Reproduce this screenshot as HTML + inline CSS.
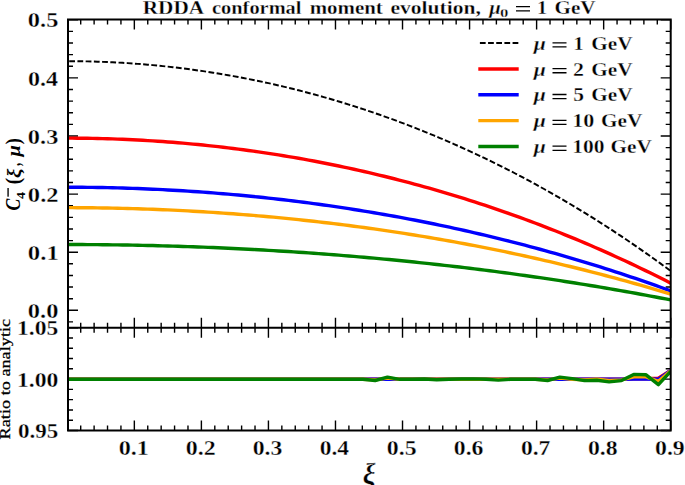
<!DOCTYPE html>
<html><head><meta charset="utf-8"><style>
html,body{margin:0;padding:0;background:#fff;width:685px;height:485px;overflow:hidden}
svg{display:block;font-family:"Liberation Serif",serif;font-kerning:none}
text{font-family:"Liberation Serif",serif}
.e text, text.e{stroke:#fff;stroke-width:0.3px;paint-order:fill stroke}
</style></head><body>
<svg width="685" height="485" viewBox="0 0 685 485">
<rect width="685" height="485" fill="#fff"/>
<defs><clipPath id="cm"><rect x="67.30" y="19.60" width="603.40" height="308.10"/></clipPath>
<clipPath id="cl"><rect x="67.30" y="327.70" width="603.40" height="102.80"/></clipPath></defs>
<path d="M80.71,19.60V24.60M80.71,327.70V322.70M80.71,327.70V332.70M80.71,430.50V425.50M94.12,19.60V24.60M94.12,327.70V322.70M94.12,327.70V332.70M94.12,430.50V425.50M107.53,19.60V24.60M107.53,327.70V322.70M107.53,327.70V332.70M107.53,430.50V425.50M120.94,19.60V24.60M120.94,327.70V322.70M120.94,327.70V332.70M120.94,430.50V425.50M134.34,19.60V29.60M134.34,327.70V317.70M134.34,327.70V337.70M134.34,430.50V420.50M147.75,19.60V24.60M147.75,327.70V322.70M147.75,327.70V332.70M147.75,430.50V425.50M161.16,19.60V24.60M161.16,327.70V322.70M161.16,327.70V332.70M161.16,430.50V425.50M174.57,19.60V24.60M174.57,327.70V322.70M174.57,327.70V332.70M174.57,430.50V425.50M187.98,19.60V24.60M187.98,327.70V322.70M187.98,327.70V332.70M187.98,430.50V425.50M201.39,19.60V29.60M201.39,327.70V317.70M201.39,327.70V337.70M201.39,430.50V420.50M214.80,19.60V24.60M214.80,327.70V322.70M214.80,327.70V332.70M214.80,430.50V425.50M228.21,19.60V24.60M228.21,327.70V322.70M228.21,327.70V332.70M228.21,430.50V425.50M241.62,19.60V24.60M241.62,327.70V322.70M241.62,327.70V332.70M241.62,430.50V425.50M255.02,19.60V24.60M255.02,327.70V322.70M255.02,327.70V332.70M255.02,430.50V425.50M268.43,19.60V29.60M268.43,327.70V317.70M268.43,327.70V337.70M268.43,430.50V420.50M281.84,19.60V24.60M281.84,327.70V322.70M281.84,327.70V332.70M281.84,430.50V425.50M295.25,19.60V24.60M295.25,327.70V322.70M295.25,327.70V332.70M295.25,430.50V425.50M308.66,19.60V24.60M308.66,327.70V322.70M308.66,327.70V332.70M308.66,430.50V425.50M322.07,19.60V24.60M322.07,327.70V322.70M322.07,327.70V332.70M322.07,430.50V425.50M335.48,19.60V29.60M335.48,327.70V317.70M335.48,327.70V337.70M335.48,430.50V420.50M348.89,19.60V24.60M348.89,327.70V322.70M348.89,327.70V332.70M348.89,430.50V425.50M362.30,19.60V24.60M362.30,327.70V322.70M362.30,327.70V332.70M362.30,430.50V425.50M375.70,19.60V24.60M375.70,327.70V322.70M375.70,327.70V332.70M375.70,430.50V425.50M389.11,19.60V24.60M389.11,327.70V322.70M389.11,327.70V332.70M389.11,430.50V425.50M402.52,19.60V29.60M402.52,327.70V317.70M402.52,327.70V337.70M402.52,430.50V420.50M415.93,19.60V24.60M415.93,327.70V322.70M415.93,327.70V332.70M415.93,430.50V425.50M429.34,19.60V24.60M429.34,327.70V322.70M429.34,327.70V332.70M429.34,430.50V425.50M442.75,19.60V24.60M442.75,327.70V322.70M442.75,327.70V332.70M442.75,430.50V425.50M456.16,19.60V24.60M456.16,327.70V322.70M456.16,327.70V332.70M456.16,430.50V425.50M469.57,19.60V29.60M469.57,327.70V317.70M469.57,327.70V337.70M469.57,430.50V420.50M482.98,19.60V24.60M482.98,327.70V322.70M482.98,327.70V332.70M482.98,430.50V425.50M496.38,19.60V24.60M496.38,327.70V322.70M496.38,327.70V332.70M496.38,430.50V425.50M509.79,19.60V24.60M509.79,327.70V322.70M509.79,327.70V332.70M509.79,430.50V425.50M523.20,19.60V24.60M523.20,327.70V322.70M523.20,327.70V332.70M523.20,430.50V425.50M536.61,19.60V29.60M536.61,327.70V317.70M536.61,327.70V337.70M536.61,430.50V420.50M550.02,19.60V24.60M550.02,327.70V322.70M550.02,327.70V332.70M550.02,430.50V425.50M563.43,19.60V24.60M563.43,327.70V322.70M563.43,327.70V332.70M563.43,430.50V425.50M576.84,19.60V24.60M576.84,327.70V322.70M576.84,327.70V332.70M576.84,430.50V425.50M590.25,19.60V24.60M590.25,327.70V322.70M590.25,327.70V332.70M590.25,430.50V425.50M603.66,19.60V29.60M603.66,327.70V317.70M603.66,327.70V337.70M603.66,430.50V420.50M617.06,19.60V24.60M617.06,327.70V322.70M617.06,327.70V332.70M617.06,430.50V425.50M630.47,19.60V24.60M630.47,327.70V322.70M630.47,327.70V332.70M630.47,430.50V425.50M643.88,19.60V24.60M643.88,327.70V322.70M643.88,327.70V332.70M643.88,430.50V425.50M657.29,19.60V24.60M657.29,327.70V322.70M657.29,327.70V332.70M657.29,430.50V425.50M670.70,19.60V29.60M670.70,327.70V317.70M670.70,327.70V337.70M670.70,430.50V420.50M68.00,321.92H73.00M670.70,321.92H665.70M68.00,310.30H78.00M670.70,310.30H660.70M68.00,298.68H73.00M670.70,298.68H665.70M68.00,287.06H73.00M670.70,287.06H665.70M68.00,275.44H73.00M670.70,275.44H665.70M68.00,263.82H73.00M670.70,263.82H665.70M68.00,252.20H78.00M670.70,252.20H660.70M68.00,240.58H73.00M670.70,240.58H665.70M68.00,228.96H73.00M670.70,228.96H665.70M68.00,217.34H73.00M670.70,217.34H665.70M68.00,205.72H73.00M670.70,205.72H665.70M68.00,194.10H78.00M670.70,194.10H660.70M68.00,182.48H73.00M670.70,182.48H665.70M68.00,170.86H73.00M670.70,170.86H665.70M68.00,159.24H73.00M670.70,159.24H665.70M68.00,147.62H73.00M670.70,147.62H665.70M68.00,136.00H78.00M670.70,136.00H660.70M68.00,124.38H73.00M670.70,124.38H665.70M68.00,112.76H73.00M670.70,112.76H665.70M68.00,101.14H73.00M670.70,101.14H665.70M68.00,89.52H73.00M670.70,89.52H665.70M68.00,77.90H78.00M670.70,77.90H660.70M68.00,66.28H73.00M670.70,66.28H665.70M68.00,54.66H73.00M670.70,54.66H665.70M68.00,43.04H73.00M670.70,43.04H665.70M68.00,31.42H73.00M670.70,31.42H665.70M68.00,19.80H78.00M670.70,19.80H660.70M68.00,430.50H78.00M670.70,430.50H660.70M68.00,420.22H73.00M670.70,420.22H665.70M68.00,409.94H73.00M670.70,409.94H665.70M68.00,399.66H73.00M670.70,399.66H665.70M68.00,389.38H73.00M670.70,389.38H665.70M68.00,379.10H78.00M670.70,379.10H660.70M68.00,368.82H73.00M670.70,368.82H665.70M68.00,358.54H73.00M670.70,358.54H665.70M68.00,348.26H73.00M670.70,348.26H665.70M68.00,337.98H73.00M670.70,337.98H665.70M68.00,327.70H78.00M670.70,327.70H660.70" stroke="#000" stroke-width="1.4" fill="none"/>
<g clip-path="url(#cm)" fill="none">
<path d="M67.30,61.18 L72.33,61.20 L77.36,61.24 L82.39,61.31 L87.41,61.40 L92.44,61.53 L97.47,61.68 L102.50,61.85 L107.53,62.06 L112.56,62.29 L117.58,62.55 L122.61,62.83 L127.64,63.15 L132.67,63.49 L137.70,63.86 L142.73,64.25 L147.75,64.68 L152.78,65.13 L157.81,65.61 L162.84,66.11 L167.87,66.65 L172.90,67.21 L177.92,67.80 L182.95,68.41 L187.98,69.06 L193.01,69.73 L198.04,70.43 L203.07,71.16 L208.09,71.91 L213.12,72.69 L218.15,73.50 L223.18,74.34 L228.21,75.21 L233.24,76.11 L238.26,77.03 L243.29,77.98 L248.32,78.96 L253.35,79.97 L258.38,81.00 L263.41,82.07 L268.43,83.16 L273.46,84.28 L278.49,85.43 L283.52,86.61 L288.55,87.82 L293.58,89.05 L298.60,90.32 L303.63,91.61 L308.66,92.94 L313.69,94.29 L318.72,95.67 L323.75,97.08 L328.77,98.52 L333.80,99.99 L338.83,101.49 L343.86,103.01 L348.89,104.57 L353.92,106.16 L358.94,107.78 L363.97,109.42 L369.00,111.10 L374.03,112.81 L379.06,114.54 L384.09,116.31 L389.11,118.11 L394.14,119.94 L399.17,121.80 L404.20,123.69 L409.23,125.61 L414.25,127.56 L419.28,129.54 L424.31,131.55 L429.34,133.60 L434.37,135.68 L439.40,137.78 L444.43,139.92 L449.45,142.09 L454.48,144.29 L459.51,146.53 L464.54,148.80 L469.57,151.09 L474.60,153.42 L479.62,155.79 L484.65,158.18 L489.68,160.61 L494.71,163.07 L499.74,165.57 L504.77,168.09 L509.79,170.65 L514.82,173.25 L519.85,175.87 L524.88,178.54 L529.91,181.23 L534.94,183.96 L539.96,186.72 L544.99,189.52 L550.02,192.35 L555.05,195.21 L560.08,198.11 L565.11,201.05 L570.13,204.02 L575.16,207.02 L580.19,210.06 L585.22,213.14 L590.25,216.25 L595.27,219.40 L600.30,222.58 L605.33,225.80 L610.36,229.05 L615.39,232.34 L620.42,235.67 L625.45,239.04 L630.47,242.44 L635.50,245.88 L640.53,249.35 L645.56,252.87 L650.59,256.42 L655.62,260.01 L660.64,263.63 L665.67,267.30 L670.70,271.00" stroke="#000" stroke-width="1.95" stroke-dasharray="5.78 2.445" stroke-dashoffset="-1.9"/>
<path d="M67.30,138.16 L72.33,138.17 L77.36,138.20 L82.39,138.25 L87.41,138.31 L92.44,138.40 L97.47,138.50 L102.50,138.62 L107.53,138.76 L112.56,138.92 L117.58,139.10 L122.61,139.30 L127.64,139.52 L132.67,139.75 L137.70,140.01 L142.73,140.28 L147.75,140.58 L152.78,140.89 L157.81,141.22 L162.84,141.57 L167.87,141.94 L172.90,142.32 L177.92,142.73 L182.95,143.16 L187.98,143.60 L193.01,144.07 L198.04,144.55 L203.07,145.05 L208.09,145.57 L213.12,146.11 L218.15,146.67 L223.18,147.25 L228.21,147.85 L233.24,148.47 L238.26,149.11 L243.29,149.77 L248.32,150.44 L253.35,151.14 L258.38,151.86 L263.41,152.59 L268.43,153.35 L273.46,154.12 L278.49,154.92 L283.52,155.73 L288.55,156.56 L293.58,157.42 L298.60,158.29 L303.63,159.19 L308.66,160.10 L313.69,161.04 L318.72,161.99 L323.75,162.96 L328.77,163.96 L333.80,164.97 L338.83,166.01 L343.86,167.07 L348.89,168.14 L353.92,169.24 L358.94,170.36 L363.97,171.49 L369.00,172.65 L374.03,173.83 L379.06,175.03 L384.09,176.25 L389.11,177.50 L394.14,178.76 L399.17,180.04 L404.20,181.35 L409.23,182.68 L414.25,184.03 L419.28,185.40 L424.31,186.79 L429.34,188.20 L434.37,189.63 L439.40,191.09 L444.43,192.57 L449.45,194.07 L454.48,195.59 L459.51,197.13 L464.54,198.70 L469.57,200.29 L474.60,201.90 L479.62,203.53 L484.65,205.19 L489.68,206.87 L494.71,208.57 L499.74,210.29 L504.77,212.04 L509.79,213.80 L514.82,215.60 L519.85,217.41 L524.88,219.25 L529.91,221.11 L534.94,223.00 L539.96,224.91 L544.99,226.84 L550.02,228.80 L555.05,230.78 L560.08,232.78 L565.11,234.81 L570.13,236.86 L575.16,238.94 L580.19,241.04 L585.22,243.16 L590.25,245.31 L595.27,247.49 L600.30,249.68 L605.33,251.91 L610.36,254.16 L615.39,256.43 L620.42,258.73 L625.45,261.06 L630.47,263.41 L635.50,265.78 L640.53,268.19 L645.56,270.61 L650.59,273.07 L655.62,275.55 L660.64,278.05 L665.67,280.59 L670.70,283.15" stroke="#ff0000" stroke-width="3.4"/>
<path d="M67.30,187.24 L72.33,187.24 L77.36,187.26 L82.39,187.30 L87.41,187.34 L92.44,187.41 L97.47,187.48 L102.50,187.57 L107.53,187.67 L112.56,187.78 L117.58,187.91 L122.61,188.05 L127.64,188.21 L132.67,188.38 L137.70,188.56 L142.73,188.75 L147.75,188.96 L152.78,189.19 L157.81,189.42 L162.84,189.67 L167.87,189.94 L172.90,190.21 L177.92,190.50 L182.95,190.81 L187.98,191.13 L193.01,191.46 L198.04,191.80 L203.07,192.16 L208.09,192.54 L213.12,192.92 L218.15,193.32 L223.18,193.74 L228.21,194.17 L233.24,194.61 L238.26,195.06 L243.29,195.53 L248.32,196.02 L253.35,196.52 L258.38,197.03 L263.41,197.55 L268.43,198.09 L273.46,198.65 L278.49,199.22 L283.52,199.80 L288.55,200.39 L293.58,201.00 L298.60,201.63 L303.63,202.27 L308.66,202.92 L313.69,203.59 L318.72,204.27 L323.75,204.97 L328.77,205.68 L333.80,206.41 L338.83,207.15 L343.86,207.90 L348.89,208.67 L353.92,209.45 L358.94,210.25 L363.97,211.07 L369.00,211.90 L374.03,212.74 L379.06,213.60 L384.09,214.47 L389.11,215.36 L394.14,216.26 L399.17,217.18 L404.20,218.11 L409.23,219.06 L414.25,220.03 L419.28,221.01 L424.31,222.00 L429.34,223.01 L434.37,224.04 L439.40,225.08 L444.43,226.13 L449.45,227.21 L454.48,228.29 L459.51,229.40 L464.54,230.52 L469.57,231.65 L474.60,232.80 L479.62,233.97 L484.65,235.15 L489.68,236.35 L494.71,237.57 L499.74,238.80 L504.77,240.05 L509.79,241.31 L514.82,242.60 L519.85,243.89 L524.88,245.21 L529.91,246.54 L534.94,247.89 L539.96,249.25 L544.99,250.63 L550.02,252.03 L555.05,253.45 L560.08,254.88 L565.11,256.33 L570.13,257.80 L575.16,259.28 L580.19,260.78 L585.22,262.30 L590.25,263.84 L595.27,265.39 L600.30,266.97 L605.33,268.56 L610.36,270.16 L615.39,271.79 L620.42,273.43 L625.45,275.10 L630.47,276.78 L635.50,278.48 L640.53,280.19 L645.56,281.93 L650.59,283.68 L655.62,285.46 L660.64,287.25 L665.67,289.06 L670.70,290.89" stroke="#0000ff" stroke-width="3.4"/>
<path d="M67.30,207.66 L72.33,207.67 L77.36,207.69 L82.39,207.72 L87.41,207.75 L92.44,207.80 L97.47,207.87 L102.50,207.94 L107.53,208.02 L112.56,208.12 L117.58,208.23 L122.61,208.34 L127.64,208.47 L132.67,208.61 L137.70,208.77 L142.73,208.93 L147.75,209.10 L152.78,209.29 L157.81,209.49 L162.84,209.70 L167.87,209.92 L172.90,210.15 L177.92,210.39 L182.95,210.64 L187.98,210.91 L193.01,211.18 L198.04,211.47 L203.07,211.77 L208.09,212.08 L213.12,212.41 L218.15,212.74 L223.18,213.09 L228.21,213.44 L233.24,213.81 L238.26,214.19 L243.29,214.58 L248.32,214.99 L253.35,215.40 L258.38,215.83 L263.41,216.27 L268.43,216.72 L273.46,217.18 L278.49,217.65 L283.52,218.14 L288.55,218.64 L293.58,219.15 L298.60,219.67 L303.63,220.20 L308.66,220.75 L313.69,221.30 L318.72,221.87 L323.75,222.45 L328.77,223.05 L333.80,223.65 L338.83,224.27 L343.86,224.90 L348.89,225.54 L353.92,226.19 L358.94,226.86 L363.97,227.54 L369.00,228.23 L374.03,228.93 L379.06,229.65 L384.09,230.38 L389.11,231.12 L394.14,231.87 L399.17,232.64 L404.20,233.42 L409.23,234.21 L414.25,235.01 L419.28,235.83 L424.31,236.66 L429.34,237.50 L434.37,238.35 L439.40,239.22 L444.43,240.10 L449.45,241.00 L454.48,241.91 L459.51,242.83 L464.54,243.76 L469.57,244.71 L474.60,245.67 L479.62,246.64 L484.65,247.63 L489.68,248.63 L494.71,249.64 L499.74,250.67 L504.77,251.71 L509.79,252.77 L514.82,253.83 L519.85,254.92 L524.88,256.01 L529.91,257.12 L534.94,258.25 L539.96,259.39 L544.99,260.54 L550.02,261.70 L555.05,262.88 L560.08,264.08 L565.11,265.29 L570.13,266.51 L575.16,267.75 L580.19,269.00 L585.22,270.27 L590.25,271.55 L595.27,272.85 L600.30,274.16 L605.33,275.49 L610.36,276.83 L615.39,278.18 L620.42,279.55 L625.45,280.94 L630.47,282.34 L635.50,283.76 L640.53,285.19 L645.56,286.64 L650.59,288.10 L655.62,289.58 L660.64,291.07 L665.67,292.58 L670.70,294.11" stroke="#ffa500" stroke-width="3.4"/>
<path d="M67.30,244.53 L72.33,244.54 L77.36,244.55 L82.39,244.57 L87.41,244.59 L92.44,244.62 L97.47,244.66 L102.50,244.71 L107.53,244.76 L112.56,244.83 L117.58,244.89 L122.61,244.97 L127.64,245.05 L132.67,245.14 L137.70,245.24 L142.73,245.34 L147.75,245.46 L152.78,245.57 L157.81,245.70 L162.84,245.83 L167.87,245.98 L172.90,246.12 L177.92,246.28 L182.95,246.44 L187.98,246.61 L193.01,246.79 L198.04,246.97 L203.07,247.17 L208.09,247.37 L213.12,247.57 L218.15,247.79 L223.18,248.01 L228.21,248.24 L233.24,248.47 L238.26,248.72 L243.29,248.97 L248.32,249.23 L253.35,249.49 L258.38,249.77 L263.41,250.05 L268.43,250.34 L273.46,250.63 L278.49,250.93 L283.52,251.25 L288.55,251.56 L293.58,251.89 L298.60,252.22 L303.63,252.57 L308.66,252.92 L313.69,253.27 L318.72,253.64 L323.75,254.01 L328.77,254.39 L333.80,254.78 L338.83,255.17 L343.86,255.58 L348.89,255.99 L353.92,256.41 L358.94,256.83 L363.97,257.27 L369.00,257.71 L374.03,258.16 L379.06,258.62 L384.09,259.09 L389.11,259.56 L394.14,260.04 L399.17,260.54 L404.20,261.03 L409.23,261.54 L414.25,262.06 L419.28,262.58 L424.31,263.11 L429.34,263.65 L434.37,264.20 L439.40,264.76 L444.43,265.32 L449.45,265.89 L454.48,266.47 L459.51,267.06 L464.54,267.66 L469.57,268.27 L474.60,268.88 L479.62,269.51 L484.65,270.14 L489.68,270.78 L494.71,271.43 L499.74,272.09 L504.77,272.76 L509.79,273.43 L514.82,274.12 L519.85,274.81 L524.88,275.51 L529.91,276.23 L534.94,276.95 L539.96,277.68 L544.99,278.41 L550.02,279.16 L555.05,279.92 L560.08,280.68 L565.11,281.46 L570.13,282.24 L575.16,283.03 L580.19,283.84 L585.22,284.65 L590.25,285.47 L595.27,286.30 L600.30,287.14 L605.33,287.99 L610.36,288.85 L615.39,289.72 L620.42,290.60 L625.45,291.49 L630.47,292.38 L635.50,293.29 L640.53,294.21 L645.56,295.14 L650.59,296.08 L655.62,297.02 L660.64,297.98 L665.67,298.95 L670.70,299.93" stroke="#008000" stroke-width="3.4"/>
</g>
<g clip-path="url(#cl)" fill="none" stroke-linejoin="round">
<path d="M67.30,379.30 L79.61,379.30 L91.93,379.30 L104.24,379.30 L116.56,379.30 L128.87,379.30 L141.19,379.30 L153.50,379.30 L165.81,379.30 L178.13,379.30 L190.44,379.30 L202.76,379.30 L215.07,379.30 L227.39,379.30 L239.70,379.30 L252.01,379.30 L264.33,379.30 L276.64,379.30 L288.96,379.30 L301.27,379.30 L313.59,379.30 L325.90,379.30 L338.21,379.30 L350.53,379.30 L362.84,379.30 L375.16,379.30 L387.47,379.30 L399.79,379.30 L412.10,379.30 L424.41,379.30 L436.73,379.30 L449.04,379.30 L461.36,379.30 L473.67,379.30 L485.99,379.30 L498.30,379.30 L510.61,379.30 L522.93,379.30 L535.24,379.30 L547.56,379.30 L559.87,379.30 L572.19,379.30 L584.50,379.30 L596.81,379.30 L609.13,379.30 L621.44,379.30 L633.76,378.80 L646.07,378.80 L658.39,378.30 L670.70,370.40" stroke="#ff0000" stroke-width="3.4"/>
<path d="M67.30,379.30 L79.61,379.30 L91.93,379.30 L104.24,379.30 L116.56,379.30 L128.87,379.30 L141.19,379.30 L153.50,379.30 L165.81,379.30 L178.13,379.30 L190.44,379.30 L202.76,379.30 L215.07,379.30 L227.39,379.30 L239.70,379.30 L252.01,379.30 L264.33,379.30 L276.64,379.30 L288.96,379.30 L301.27,379.30 L313.59,379.30 L325.90,379.30 L338.21,379.30 L350.53,379.30 L362.84,379.30 L375.16,379.30 L387.47,379.30 L399.79,379.30 L412.10,379.30 L424.41,379.30 L436.73,379.30 L449.04,379.30 L461.36,379.30 L473.67,379.30 L485.99,379.30 L498.30,379.30 L510.61,379.30 L522.93,379.30 L535.24,379.30 L547.56,379.30 L559.87,379.30 L572.19,379.30 L584.50,379.30 L596.81,379.30 L609.13,379.30 L621.44,379.30 L633.76,379.00 L646.07,379.00 L658.39,379.30 L670.70,370.50" stroke="#0000ff" stroke-width="3.4"/>
<path d="M67.30,379.30 L79.61,379.30 L91.93,379.30 L104.24,379.30 L116.56,379.30 L128.87,379.30 L141.19,379.30 L153.50,379.30 L165.81,379.30 L178.13,379.30 L190.44,379.30 L202.76,379.30 L215.07,379.30 L227.39,379.30 L239.70,379.30 L252.01,379.30 L264.33,379.30 L276.64,379.30 L288.96,379.30 L301.27,379.30 L313.59,379.30 L325.90,379.30 L338.21,379.30 L350.53,379.30 L362.84,379.30 L375.16,379.90 L387.47,378.10 L399.79,379.30 L412.10,379.30 L424.41,379.30 L436.73,379.30 L449.04,379.30 L461.36,379.30 L473.67,379.30 L485.99,379.30 L498.30,379.30 L510.61,379.30 L522.93,379.30 L535.24,379.30 L547.56,379.90 L559.87,378.10 L572.19,379.30 L584.50,379.90 L596.81,379.30 L609.13,380.50 L621.44,379.90 L633.76,376.90 L646.07,376.90 L658.39,381.30 L670.70,370.90" stroke="#ffa500" stroke-width="3.4"/>
<path d="M67.30,379.30 L79.61,379.30 L91.93,379.30 L104.24,379.30 L116.56,379.30 L128.87,379.30 L141.19,379.30 L153.50,379.30 L165.81,379.30 L178.13,379.30 L190.44,379.30 L202.76,379.30 L215.07,379.30 L227.39,379.30 L239.70,379.30 L252.01,379.30 L264.33,379.30 L276.64,379.30 L288.96,379.30 L301.27,379.30 L313.59,379.30 L325.90,379.30 L338.21,379.30 L350.53,379.30 L362.84,379.30 L375.16,380.50 L387.47,377.10 L399.79,379.30 L412.10,379.30 L424.41,379.00 L436.73,379.80 L449.04,379.30 L461.36,379.00 L473.67,378.90 L485.99,379.30 L498.30,380.10 L510.61,379.30 L522.93,379.30 L535.24,379.30 L547.56,380.50 L559.87,377.10 L572.19,378.60 L584.50,380.60 L596.81,380.20 L609.13,381.90 L621.44,380.60 L633.76,374.40 L646.07,374.80 L658.39,384.70 L670.70,371.30" stroke="#008000" stroke-width="3.4"/>
</g>
<path d="M68.00,19.60H670.70V430.50H68.00Z M68.00,327.70H670.70" fill="none" stroke="#000" stroke-width="2.0" stroke-linejoin="miter" stroke-linecap="square"/>
<path d="M478.3,43.1H518.7" stroke="#000" stroke-width="2.0" stroke-dasharray="5.75 2.42" stroke-dashoffset="-1.6" fill="none"/>
<path d="M478.3,68.95H518.7" stroke="#ff0000" stroke-width="3.4" fill="none"/>
<path d="M478.3,94.8H518.7" stroke="#0000ff" stroke-width="3.4" fill="none"/>
<path d="M478.3,120.65H518.7" stroke="#ffa500" stroke-width="3.4" fill="none"/>
<path d="M478.3,146.5H518.7" stroke="#008000" stroke-width="3.4" fill="none"/>
<text class="e" transform="translate(533.82,49.70) scale(1.2075,1)" style="font-size:18.0px;font-weight:bold;font-style:italic" fill="#000">μ</text>
<path d="M552.50,42.80H566.50M552.50,46.90H566.50" stroke="#000" stroke-width="1.3" fill="none"/>
<text class="e" transform="translate(573.30,49.70) scale(1.1770,1)" style="font-size:18.0px;font-weight:bold" fill="#000">1</text>
<text class="e" transform="translate(591.36,49.70) scale(1.1797,1)" style="font-size:18.0px;font-weight:bold" fill="#000">GeV</text>
<text class="e" transform="translate(533.82,75.55) scale(1.2075,1)" style="font-size:18.0px;font-weight:bold;font-style:italic" fill="#000">μ</text>
<path d="M552.50,68.65H566.50M552.50,72.75H566.50" stroke="#000" stroke-width="1.3" fill="none"/>
<text class="e" transform="translate(573.08,75.55) scale(1.2181,1)" style="font-size:18.0px;font-weight:bold" fill="#000">2</text>
<text class="e" transform="translate(591.36,75.55) scale(1.1797,1)" style="font-size:18.0px;font-weight:bold" fill="#000">GeV</text>
<text class="e" transform="translate(533.82,101.40) scale(1.2075,1)" style="font-size:18.0px;font-weight:bold;font-style:italic" fill="#000">μ</text>
<path d="M552.50,94.50H566.50M552.50,98.60H566.50" stroke="#000" stroke-width="1.3" fill="none"/>
<text class="e" transform="translate(573.14,101.40) scale(1.1942,1)" style="font-size:18.0px;font-weight:bold" fill="#000">5</text>
<text class="e" transform="translate(591.36,101.40) scale(1.1797,1)" style="font-size:18.0px;font-weight:bold" fill="#000">GeV</text>
<text class="e" transform="translate(533.82,127.25) scale(1.2075,1)" style="font-size:18.0px;font-weight:bold;font-style:italic" fill="#000">μ</text>
<path d="M552.50,120.35H566.50M552.50,124.45H566.50" stroke="#000" stroke-width="1.3" fill="none"/>
<text class="e" transform="translate(572.23,127.25) scale(1.2285,1)" style="font-size:18.0px;font-weight:bold" fill="#000">10</text>
<text class="e" transform="translate(600.96,127.25) scale(1.1797,1)" style="font-size:18.0px;font-weight:bold" fill="#000">GeV</text>
<text class="e" transform="translate(533.82,153.10) scale(1.2075,1)" style="font-size:18.0px;font-weight:bold;font-style:italic" fill="#000">μ</text>
<path d="M552.50,146.20H566.50M552.50,150.30H566.50" stroke="#000" stroke-width="1.3" fill="none"/>
<text class="e" transform="translate(572.28,153.10) scale(1.1941,1)" style="font-size:18.0px;font-weight:bold" fill="#000">100</text>
<text class="e" transform="translate(610.56,153.10) scale(1.1797,1)" style="font-size:18.0px;font-weight:bold" fill="#000">GeV</text>
<text class="e" transform="translate(142.74,13.60) scale(1.1132,1)" style="font-size:19.1px;font-weight:bold" fill="#000">RDDA</text>
<text class="e" transform="translate(212.00,13.60) scale(1.0685,1)" style="font-size:19.1px;font-weight:bold" fill="#000">conformal</text>
<text class="e" transform="translate(309.64,13.60) scale(1.0961,1)" style="font-size:19.1px;font-weight:bold" fill="#000">moment</text>
<text class="e" transform="translate(390.46,13.60) scale(1.1290,1)" style="font-size:19.1px;font-weight:bold" fill="#000">evolution,</text>
<text class="e" transform="translate(489.28,13.60) scale(1.0824,1)" style="font-size:19.1px;font-weight:bold;font-style:italic" fill="#000">μ</text>
<text class="e" transform="translate(537.07,13.60) scale(1.0666,1)" style="font-size:19.1px;font-weight:bold" fill="#000">1</text>
<text class="e" transform="translate(554.47,13.60) scale(1.1062,1)" style="font-size:19.1px;font-weight:bold" fill="#000">GeV</text>
<text class="e" transform="translate(500.06,16.60) scale(1.3295,1)" style="font-size:12.6px;font-weight:bold" fill="#000">0</text>
<path d="M516.00,6.70H530.00M516.00,10.80H530.00" stroke="#000" stroke-width="1.3" fill="none"/>
<text class="e" transform="translate(27.87,317.94) scale(1.1145,1)" style="font-size:21.937598849748433px;font-weight:bold" fill="#000">0.0</text>
<text class="e" transform="translate(27.86,259.84) scale(1.1277,1)" style="font-size:21.93759884974839px;font-weight:bold" fill="#000">0.1</text>
<text class="e" transform="translate(27.86,201.74) scale(1.1192,1)" style="font-size:21.93759884974839px;font-weight:bold" fill="#000">0.2</text>
<text class="e" transform="translate(27.87,143.64) scale(1.1108,1)" style="font-size:21.93759884974839px;font-weight:bold" fill="#000">0.3</text>
<text class="e" transform="translate(27.88,85.54) scale(1.0963,1)" style="font-size:21.93759884974837px;font-weight:bold" fill="#000">0.4</text>
<text class="e" transform="translate(27.87,27.44) scale(1.1131,1)" style="font-size:21.937598849748383px;font-weight:bold" fill="#000">0.5</text>
<text class="e" transform="translate(16.91,335.44) scale(1.0773,1)" style="font-size:21.937598849748433px;font-weight:bold" fill="#000">1.05</text>
<text class="e" transform="translate(16.91,386.84) scale(1.0783,1)" style="font-size:21.937598849748433px;font-weight:bold" fill="#000">1.00</text>
<text class="e" transform="translate(17.92,438.24) scale(1.0503,1)" style="font-size:21.937598849748433px;font-weight:bold" fill="#000">0.95</text>
<text class="e" transform="translate(118.63,454.70) scale(1.1305,1)" style="font-size:21.34867002156722px;font-weight:bold" fill="#000">0.1</text>
<text class="e" transform="translate(185.68,454.70) scale(1.1220,1)" style="font-size:21.34867002156722px;font-weight:bold" fill="#000">0.2</text>
<text class="e" transform="translate(252.73,454.70) scale(1.1136,1)" style="font-size:21.34867002156722px;font-weight:bold" fill="#000">0.3</text>
<text class="e" transform="translate(319.78,454.70) scale(1.0990,1)" style="font-size:21.34867002156722px;font-weight:bold" fill="#000">0.4</text>
<text class="e" transform="translate(386.81,454.70) scale(1.1159,1)" style="font-size:21.34867002156722px;font-weight:bold" fill="#000">0.5</text>
<text class="e" transform="translate(453.86,454.70) scale(1.1090,1)" style="font-size:21.34867002156722px;font-weight:bold" fill="#000">0.6</text>
<text class="e" transform="translate(520.91,454.70) scale(1.1045,1)" style="font-size:21.34867002156722px;font-weight:bold" fill="#000">0.7</text>
<text class="e" transform="translate(587.95,454.70) scale(1.1127,1)" style="font-size:21.34867002156722px;font-weight:bold" fill="#000">0.8</text>
<text class="e" transform="translate(654.99,454.70) scale(1.1155,1)" style="font-size:21.34867002156722px;font-weight:bold" fill="#000">0.9</text>
<text class="e" transform="translate(362.77,483.52) scale(0.9416,1)" style="font-size:30.231298557158738px;font-weight:bold;font-style:italic" fill="#000">ξ</text>
<g transform="translate(19.8,209.6) rotate(-90)">
<text transform="translate(-1.00,0.20) scale(0.8386,1)" style="font-size:20.986046511627908px;font-weight:bold;font-style:italic" fill="#000">C</text>
<text transform="translate(10.71,5.00) scale(1.0799,1)" style="font-size:13.065875370919882px;font-weight:bold" fill="#000">4</text>
<rect x="12.9" y="-12.4" width="8.7" height="1.35" fill="#000"/>
<text transform="translate(25.26,0.19) scale(0.9202,1)" style="font-size:20.73365643511039px;font-weight:bold" fill="#000">(</text>
<text transform="translate(31.69,-0.28) scale(1.1130,1)" style="font-size:18.638845726970036px;font-weight:bold;font-style:italic" fill="#000">ξ</text>
<text transform="translate(43.53,0.37) scale(0.5840,1)" style="font-size:21.540453074433657px;font-weight:bold" fill="#000">,</text>
<text transform="translate(53.17,-0.23) scale(1.1106,1)" style="font-size:18.45581395348837px;font-weight:bold;font-style:italic" fill="#000">μ</text>
<text transform="translate(65.32,0.45) scale(0.8371,1)" style="font-size:21.39536887452881px;font-weight:bold" fill="#000">)</text>
</g>
<g transform="translate(10.3,438.9) rotate(-90)"><text transform="translate(-0.53,0.00) scale(1.2593,1)" style="font-size:14.5px;" fill="#000" stroke="#000" stroke-width="0.25">Ratio to analytic</text></g>
</svg>
</body></html>
